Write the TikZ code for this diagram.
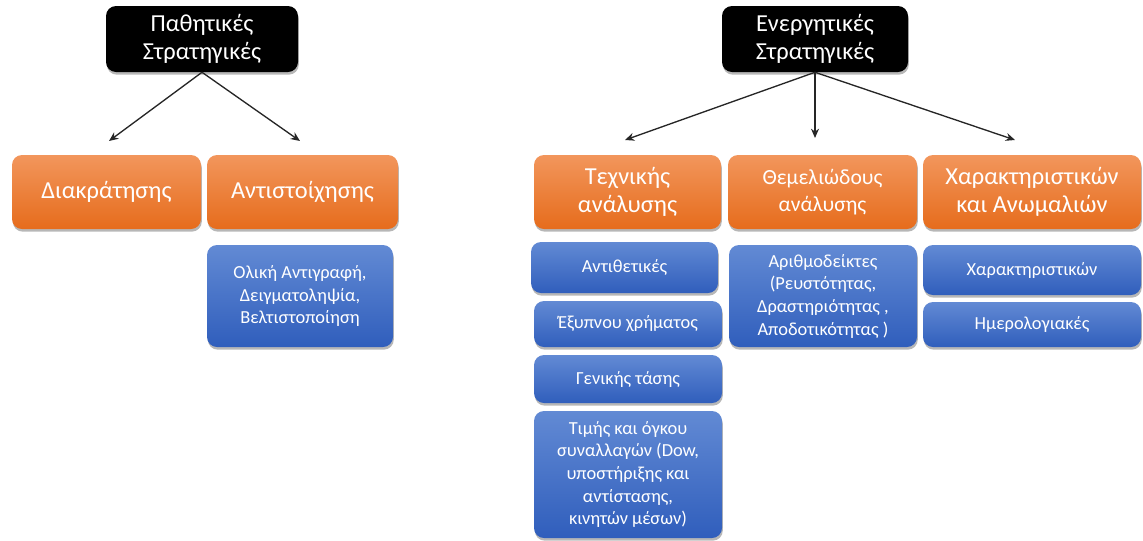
\documentclass[tikz,border=0pt]{standalone}
\usepackage{fontspec}
\setmainfont{Carlito}
\usetikzlibrary{shadows,arrows.meta}
\definecolor{orTop}{RGB}{242,150,92}
\definecolor{orBot}{RGB}{230,108,28}
\definecolor{blTop}{RGB}{98,138,212}
\definecolor{blBot}{RGB}{48,94,188}
\tikzset{
 base/.style={rounded corners=7.5pt, inner sep=0pt, align=center, text=white,
   drop shadow={shadow xshift=0.6pt, shadow yshift=-2pt, opacity=0.4, fill=black!70}},
 blackbox/.style={base, fill=black, font=\fontsize{18.3}{21}\selectfont},
 orangebox/.style={base, top color=orTop, bottom color=orBot, font=\fontsize{18.3}{21}\selectfont},
 orangesmall/.style={orangebox, font=\fontsize{16.2}{20}\selectfont},
 bluebox/.style={base, top color=blTop, bottom color=blBot, font=\fontsize{13.8}{17}\selectfont},
 arr/.style={-{Stealth[length=7pt,width=6pt]}, line width=1pt, black!85},
}
\newcommand\mybox[7]{\node[#2, minimum width={(#5-#3)*0.75pt}, minimum height={(#6-#4)*0.75pt}] (#1) at ({(#3+#5)/2},{(#4+#6)/2}) {#7};}
\begin{document}
\begin{tikzpicture}[x=0.75pt, y=-0.75pt]
\useasboundingbox (0,0) rectangle (1143,540);
% top boxes
\mybox{p1}{blackbox}{106}{6}{298}{72}{Παθητικές\\Στρατηγικές}
\mybox{p2}{blackbox}{722}{6}{908}{72}{Ενεργητικές\\Στρατηγικές}
% orange row
\mybox{o1}{orangebox}{12}{155}{201}{229}{Διακράτησης}
\mybox{o2}{orangebox}{207}{155}{398}{229}{Αντιστοίχησης}
\mybox{o3}{orangebox}{534}{155}{721}{229}{Τεχνικής\\ανάλυσης}
\mybox{o4}{orangesmall}{728}{155}{917}{229}{Θεμελιώδους\\ανάλυσης}
\mybox{o5}{orangebox}{923}{155}{1141}{229}{Χαρακτηριστικών\\και Ανωμαλιών}
% blue boxes
\mybox{b1}{bluebox}{207}{245}{393}{347}{Ολική Αντιγραφή,\\Δειγματοληψία,\\Βελτιστοποίηση}
\mybox{c1}{bluebox}{531}{242}{718}{293}{Αντιθετικές}
\mybox{c2}{bluebox}{534}{301}{722}{347}{Έξυπνου χρήματος}
\mybox{c3}{bluebox}{534}{355}{722}{403}{Γενικής τάσης}
\mybox{c4}{bluebox}{534}{411}{722}{538}{Τιμής και όγκου\\συναλλαγών (Dow,\\υποστήριξης και\\αντίστασης,\\κινητών μέσων)}
\mybox{d1}{bluebox}{729}{245}{917}{347}{Αριθμοδείκτες\\(Ρευστότητας,\\Δραστηριότητας ,\\Αποδοτικότητας )}
\mybox{e1}{bluebox}{923}{245}{1141}{295}{Χαρακτηριστικών}
\mybox{e2}{bluebox}{923}{302}{1141}{347}{Ημερολογιακές}
% arrow ends
\coordinate (a1) at (109,141);
\coordinate (a2) at (300,141);
\coordinate (a3) at (625,140);
\coordinate (a4) at (815,138);
\coordinate (a5) at (1015,140);
\draw[arr] (p1.south) -- (a1);
\draw[arr] (p1.south) -- (a2);
\draw[arr] (p2.south) -- (a3);
\draw[arr] (p2.south) -- (a4);
\draw[arr] (p2.south) -- (a5);
\end{tikzpicture}
\end{document}
